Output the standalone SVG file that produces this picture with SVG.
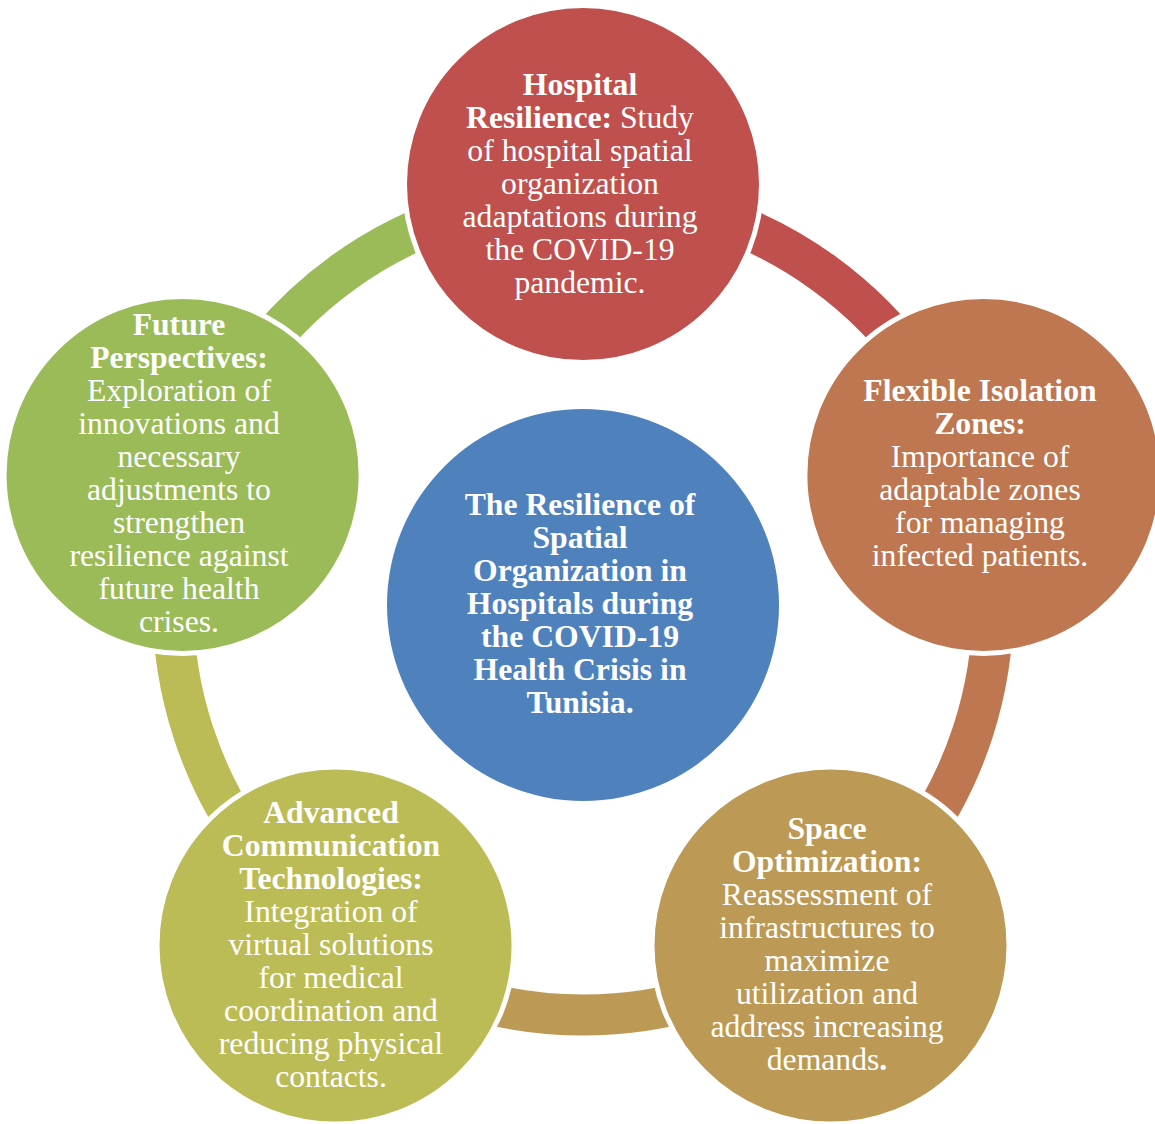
<svg xmlns="http://www.w3.org/2000/svg" width="1155" height="1124" viewBox="0 0 1155 1124">
<style>
.arc{fill:none;stroke-width:41;stroke-linecap:butt}
.node{stroke:#fff;stroke-width:5}
text{font-family:"Liberation Serif","Times New Roman",serif;font-size:31.7px;fill:#fff;text-anchor:middle}
.b{font-weight:bold}
</style>
<rect width="1155" height="1124" fill="#fff"/>
<g id="connectors">
<path class="arc" stroke="#C0504D" d="M583,195 A410,410 0 0 1 972.93,478.30"/>
<path class="arc" stroke="#BE7750" d="M972.93,478.30 A410,410 0 0 1 823.99,936.70"/>
<path class="arc" stroke="#BC9954" d="M823.99,936.70 A410,410 0 0 1 342.01,936.70"/>
<path class="arc" stroke="#BCBC56" d="M342.01,936.70 A410,410 0 0 1 193.07,478.30"/>
<path class="arc" stroke="#9BBB59" d="M193.07,478.30 A410,410 0 0 1 583,195"/>
</g>
<g id="center">
<circle cx="583" cy="605" r="196" fill="#4F81BD"/>
<text class="b"><tspan x="580" y="515">The Resilience of</tspan><tspan x="580" y="548">Spatial</tspan><tspan x="580" y="581">Organization in</tspan><tspan x="580" y="614">Hospitals during</tspan><tspan x="580" y="647">the COVID-19</tspan><tspan x="580" y="680">Health Crisis in</tspan><tspan x="580" y="713">Tunisia.</tspan></text>
</g>
<g id="hospital-resilience">
<circle class="node" cx="583" cy="184" r="178.5" fill="#C0504D"/>
<text><tspan x="580" y="95" class="b">Hospital</tspan><tspan x="580" y="128"><tspan class="b">Resilience:</tspan> Study</tspan><tspan x="580" y="161">of hospital spatial</tspan><tspan x="580" y="194">organization</tspan><tspan x="580" y="227">adaptations during</tspan><tspan x="580" y="260">the COVID-19</tspan><tspan x="580" y="293">pandemic.</tspan></text>
</g>
<g id="flexible-isolation">
<circle class="node" cx="983.4" cy="474.9" r="178.5" fill="#BE7750"/>
<text><tspan x="980" y="401" class="b">Flexible Isolation</tspan><tspan x="980" y="434" class="b">Zones:</tspan><tspan x="980" y="467">Importance of</tspan><tspan x="980" y="500">adaptable zones</tspan><tspan x="980" y="533">for managing</tspan><tspan x="980" y="566">infected patients.</tspan></text>
</g>
<g id="space-optimization">
<circle class="node" cx="830.5" cy="945.6" r="178.5" fill="#BC9954"/>
<text><tspan x="827" y="839" class="b">Space</tspan><tspan x="827" y="872" class="b">Optimization:</tspan><tspan x="827" y="905">Reassessment of</tspan><tspan x="827" y="938">infrastructures to</tspan><tspan x="827" y="971">maximize</tspan><tspan x="827" y="1004">utilization and</tspan><tspan x="827" y="1037">address increasing</tspan><tspan x="827" y="1070">demands<tspan class="b">.</tspan></tspan></text>
</g>
<g id="advanced-communication">
<circle class="node" cx="335.5" cy="945.6" r="178.5" fill="#BCBC56"/>
<text><tspan x="331" y="823" class="b">Advanced</tspan><tspan x="331" y="856" class="b">Communication</tspan><tspan x="331" y="889" class="b">Technologies:</tspan><tspan x="331" y="922">Integration of</tspan><tspan x="331" y="955">virtual solutions</tspan><tspan x="331" y="988">for medical</tspan><tspan x="331" y="1021">coordination and</tspan><tspan x="331" y="1054">reducing physical</tspan><tspan x="331" y="1087">contacts.</tspan></text>
</g>
<g id="future-perspectives">
<circle class="node" cx="182.6" cy="474.9" r="178.5" fill="#9BBB59"/>
<text><tspan x="179" y="335" class="b">Future</tspan><tspan x="179" y="368" class="b">Perspectives:</tspan><tspan x="179" y="401">Exploration of</tspan><tspan x="179" y="434">innovations and</tspan><tspan x="179" y="467">necessary</tspan><tspan x="179" y="500">adjustments to</tspan><tspan x="179" y="533">strengthen</tspan><tspan x="179" y="566">resilience against</tspan><tspan x="179" y="599">future health</tspan><tspan x="179" y="632">crises.</tspan></text>
</g>
</svg>
